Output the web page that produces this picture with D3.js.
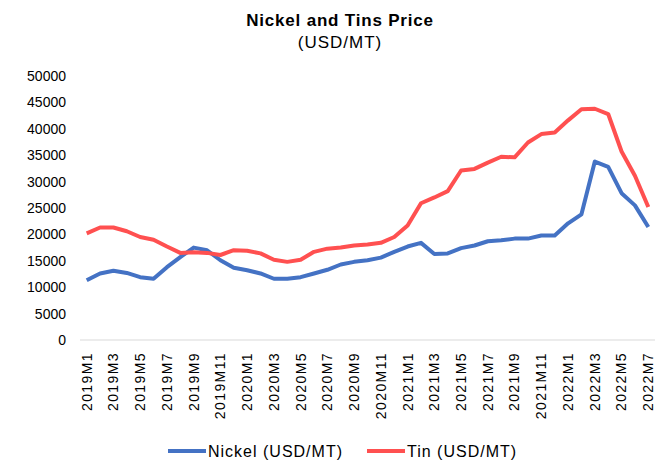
<!DOCTYPE html>
<html>
<head>
<meta charset="utf-8">
<script src="https://cdn.jsdelivr.net/npm/d3@7"></script>
<style>
body{margin:0;background:#fff;}
text{font-family:"Liberation Sans",Arial,sans-serif;fill:#000;}
.xAxis path,.xAxis line,.yAxis path,.yAxis line{display:none;}
</style>
</head>
<body>
<svg id="chart"></svg>
<script>
var months=[];
[2019,2020,2021,2022].forEach(function(y){
  for(var m=1;m<=12;m++){ if(y==2022&&m>7) break; months.push(y+"M"+m); }
});
var nickel=[11300,12600,13100,12700,11900,11600,13800,15700,17500,17000,
            15100,13700,13200,12600,11600,11600,11900,12600,13300,14300,
            14800,15100,15600,16700,17700,18400,16300,16400,17400,17900,
            18700,18900,19200,19200,19800,19800,22100,23800,33800,32800,
            27800,25500,21400];
var tin=[20200,21300,21300,20600,19500,19000,17700,16500,16600,16500,
         16100,17000,16900,16400,15200,14800,15200,16700,17300,17500,
         17900,18100,18400,19500,21700,25900,27000,28200,32100,32400,
         33600,34700,34600,37400,39000,39300,41600,43700,43800,42800,
         35700,31100,25200];
var yTicks=[0,5000,10000,15000,20000,25000,30000,35000,40000,45000,50000];

var w=665,h=460;
var margin={left:80,right:10,top:76,bottom:120};

var svg=d3.select("#chart")
          .attr("width",w)
          .attr("height",h);

var xScale=d3.scaleBand()
             .domain(months)
             .range([margin.left,w-margin.right]);
var yScale=d3.scaleLinear()
             .domain([0,50000])
             .range([h-margin.bottom,margin.top]);

svg.append("text")
   .attr("x",340).attr("y",26)
   .attr("text-anchor","middle")
   .style("font-size","17px").style("font-weight","bold")
   .style("letter-spacing","0.8px")
   .text("Nickel and Tins Price");
svg.append("text")
   .attr("x",340).attr("y",48)
   .attr("text-anchor","middle")
   .style("font-size","17px")
   .style("letter-spacing","1px")
   .text("(USD/MT)");

// y axis labels only
var yAxis=d3.axisLeft(yScale).tickValues(yTicks).tickSize(0).tickPadding(14).tickFormat(d3.format("d"));
svg.append("g")
   .classed("yAxis",true)
   .attr("transform","translate("+margin.left+",0)")
   .call(yAxis)
   .selectAll("text")
   .style("font-size","14px");

// baseline
svg.append("line")
   .attr("x1",margin.left).attr("x2",w-margin.right)
   .attr("y1",yScale(0)).attr("y2",yScale(0))
   .attr("stroke","#d9d9d9").attr("stroke-width",1);

var xAxis=d3.axisBottom(xScale)
            .tickValues(months.filter(function(d,i){return i%2==0;}))
            .tickSize(0);
svg.append("g")
   .classed("xAxis",true)
   .attr("transform","translate(0,"+yScale(0)+")")
   .call(xAxis)
   .selectAll("text")
   .attr("transform","rotate(-90)")
   .attr("text-anchor","end")
   .attr("x",-12)
   .attr("y",0)
   .attr("dy","0.35em")
   .style("font-size","14px")
   .style("letter-spacing","1.4px");

var line=d3.line()
           .x(function(d,i){return xScale(months[i])+xScale.bandwidth()/2;})
           .y(function(d){return yScale(d);});

svg.append("path")
   .datum(nickel)
   .attr("fill","none")
   .attr("stroke","#4472c4")
   .attr("stroke-width",4)
   .attr("stroke-linejoin","round")
   .attr("d",line);
svg.append("path")
   .datum(tin)
   .attr("fill","none")
   .attr("stroke","#ff5050")
   .attr("stroke-width",4)
   .attr("stroke-linejoin","round")
   .attr("d",line);

var legend=[{name:"Nickel (USD/MT)",color:"#4472c4",x:168},
            {name:"Tin (USD/MT)",color:"#ff5050",x:367}];
var lg=svg.selectAll(".legend")
          .data(legend)
          .enter()
          .append("g")
          .attr("transform",function(d){return "translate("+d.x+",451)";});
lg.append("line")
  .attr("x1",0).attr("x2",38)
  .attr("stroke",function(d){return d.color;})
  .attr("stroke-width",4);
lg.append("text")
  .attr("x",40).attr("dy","0.35em")
  .style("font-size","16px")
  .style("letter-spacing","1px")
  .text(function(d){return d.name;});
</script>
</body>
</html>
